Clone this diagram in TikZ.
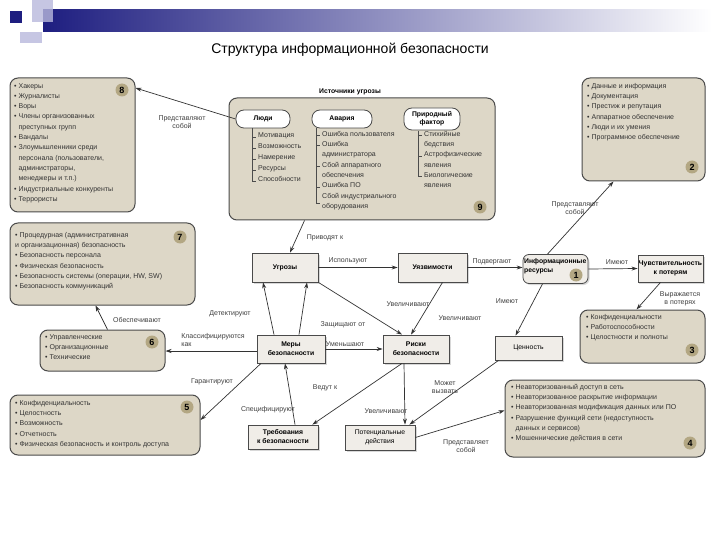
\documentclass[tikz,border=0pt]{standalone}
\usepackage{fontspec}
\setmainfont{Liberation Sans}
\usetikzlibrary{arrows.meta,shadows,calc}
\definecolor{lfill}{HTML}{DDD7C7}
\definecolor{lline}{HTML}{4A4A4A}
\definecolor{mfill}{HTML}{F0EDE8}
\definecolor{bfill}{HTML}{B3A783}
\definecolor{dblue}{HTML}{1E1E80}
\definecolor{lav}{HTML}{B8B8DC}
\tikzset{
  lbox/.style={draw=lline,line width=1pt,fill=lfill,rounded corners=8pt,inner sep=0pt},
  lst/.style={align=left,inner sep=0pt,font=\fontsize{7}{10.3}\selectfont,text=black!80},
  mbox/.style={draw=lline,line width=0.8pt,fill=mfill,drop shadow={shadow xshift=1.5pt,shadow yshift=-1.5pt,fill=gray!60},align=center,font=\fontsize{6.8}{9}\selectfont\bfseries,inner sep=1pt},
  oval/.style={draw=lline,line width=0.8pt,fill=white,rounded corners=8pt,align=center,font=\fontsize{6.8}{8}\selectfont\bfseries,inner sep=1pt},
  badge/.style={circle,fill=bfill,inner sep=0pt,minimum size=13pt,font=\fontsize{9}{9}\selectfont\bfseries},
  lbl/.style={font=\fontsize{7}{8.4}\selectfont,text=black!75,align=center,inner sep=1pt},
  arr/.style={-{Stealth[length=6pt,width=4pt]},line width=0.7pt,draw=black!80},
  tree/.style={line width=0.6pt,draw=black!70}
}
\begin{document}
\begin{tikzpicture}[x=1pt,y=-1pt]
\useasboundingbox (0,0) rectangle (720,540);
\fill[white] (0,0) rectangle (720,540);
% header decoration
\shade[left color=dblue,right color=white] (43,10) rectangle (712,32);
\fill[lav,opacity=0.8] (32,0) rectangle (53,22);
\fill[lav,opacity=0.8] (20,32) rectangle (42,43);
\fill[dblue] (10,11) rectangle (22,23);
\node[font=\fontsize{14}{16}\selectfont] (title) at (350,50) {Структура информационной безопасности};

% Box 8
\node[lbox,minimum width=125pt,minimum height=134pt] (b8) at (72.5,145) {};
\node[lst,anchor=north west] (t8) at (14,83) {• Хакеры\\• Журналисты\\• Воры\\• Члены организованных\\\phantom{• }преступных групп\\• Вандалы\\• Злоумышленники среди\\\phantom{• }персонала (пользователи,\\\phantom{• }администраторы,\\\phantom{• }менеджеры и т.п.)\\• Индустриальные конкуренты\\• Террористы};
\node[badge] (n8) at (122,90) {8};

% Box 9
\node[font=\fontsize{6.8}{8}\selectfont\bfseries] (t9h) at (350,92) {Источники угрозы};
\node[lbox,minimum width=266pt,minimum height=122pt] (b9) at (362,159) {};
\node[oval,minimum width=54pt,minimum height=18pt] (ppl) at (263,119) {Люди};
\node[oval,minimum width=60pt,minimum height=18pt] (acc) at (342,119) {Авария};
\node[oval,minimum width=56pt,minimum height=22pt] (nat) at (432,119) {Природный\\фактор};
\draw[tree] (252,128) -- (252,181);
\foreach \yy in {137,148,159,170,181} \draw[tree] (252,\yy) -- (256,\yy);
\node[lst,anchor=north west,font=\fontsize{7}{11}\selectfont] (t9a) at (258,132) {Мотивация\\Возможность\\Намерение\\Ресурсы\\Способности};
\draw[tree] (316,128) -- (316,203);
\foreach \yy in {135,145,166,187,203} \draw[tree] (316,\yy) -- (320,\yy);
\node[lst,anchor=north west] (t9b) at (322,131) {Ошибка пользователя\\Ошибка\\администратора\\Сбой аппаратного\\обеспечения\\Ошибка ПО\\Сбой индустриального\\оборудования};
\draw[tree] (418,131) -- (418,176);
\foreach \yy in {135,156,176} \draw[tree] (418,\yy) -- (422,\yy);
\node[lst,anchor=north west] (t9c) at (424,131) {Стихийные\\бедствия\\Астрофизические\\явления\\Биологические\\явления};
\node[badge] (n9) at (480,207) {9};

% Box 2
\node[lbox,minimum width=123pt,minimum height=103pt] (b2) at (643.5,129.5) {};
\node[lst,anchor=north west] (t2) at (587,83) {• Данные и информация\\• Документация\\• Престиж и репутация\\• Аппаратное обеспечение\\• Люди и их умения\\• Программное обеспечение};
\node[badge] (n2) at (692,167) {2};

% Box 7
\node[lbox,minimum width=185pt,minimum height=82pt] (b7) at (102.5,264) {};
\node[lst,anchor=north west] (t7) at (15,232) {• Процедурная (административная\\и организационная) безопасность\\• Безопасность персонала\\• Физическая безопасность\\• Безопасность системы (операции, HW, SW)\\• Безопасность коммуникаций};
\node[badge] (n7) at (180,237) {7};

% Box 6
\node[lbox,minimum width=125pt,minimum height=41pt] (b6) at (102.5,350.5) {};
\node[lst,anchor=north west] (t6) at (45,334) {• Управленческие\\• Организационные\\• Технические};
\node[badge] (n6) at (152,342) {6};

% Box 5
\node[lbox,minimum width=190pt,minimum height=60pt] (b5) at (105,425) {};
\node[lst,anchor=north west] (t5) at (15,400) {• Конфиденциальность\\• Целостность\\• Возможность\\• Отчетность\\• Физическая безопасность и контроль доступа};
\node[badge] (n5) at (187,407) {5};

% Box 3
\node[lbox,minimum width=125pt,minimum height=53pt] (b3) at (642.5,336.5) {};
\node[lst,anchor=north west] (t3) at (586,314) {• Конфиденциальности\\• Работоспособности\\• Целостности и полноты};
\node[badge] (n3) at (692,350) {3};

% Box 4
\node[lbox,minimum width=200pt,minimum height=77pt] (b4) at (605,418.5) {};
\node[lst,anchor=north west] (t4) at (511,384) {• Неавторизованный доступ в сеть\\• Неавторизованное раскрытие информации\\• Неавторизованная модификация данных или ПО\\• Разрушение функций сети (недоступность\\\phantom{• }данных и сервисов)\\• Мошеннические действия в сети};
\node[badge] (n4) at (690,443) {4};

% Main boxes
\node[mbox,minimum width=66pt,minimum height=29pt] (ugr) at (285,267.5) {Угрозы};
\node[mbox,minimum width=69pt,minimum height=29pt] (vul) at (432.5,267.5) {Уязвимости};
\node[mbox,rounded corners=6pt,minimum width=65pt,minimum height=29pt,align=left] (res) at (555.5,269) {};
\node[font=\fontsize{6.8}{9}\selectfont\bfseries,align=left,anchor=north west,inner sep=0pt] (rest) at (524,258) {Информационные\\ресурсы};
\node[badge] (n1) at (576,275) {1};
\node[mbox,minimum width=65pt,minimum height=27pt] (sens) at (670.5,268.5) {Чувствительность\\к потерям};
\node[mbox,minimum width=68pt,minimum height=28pt] (mer) at (291,349) {Меры\\безопасности};
\node[mbox,minimum width=66pt,minimum height=28pt] (risk) at (416,349) {Риски\\безопасности};
\node[mbox,font=\fontsize{6.8}{9}\selectfont,minimum width=67pt,minimum height=24pt] (val) at (528.5,348) {Ценность};
\node[mbox,minimum width=70pt,minimum height=24pt] (req) at (283,437) {Требования\\к безопасности};
\node[mbox,font=\fontsize{6.8}{9}\selectfont,minimum width=70pt,minimum height=25pt] (pot) at (380,437.5) {Потенциальные\\действия};

% Connectors
\draw[arr] (ppl.west) -- (b8.east |- 0,88);
\node[lbl] (l1) at (182,122) {Представляют\\собой};
\draw[arr] ($(b9.south west)+(76,0)$) -- ($(ugr.north)+(5,0)$);
\node[lbl] (l2) at (325,238) {Приводят к};
\draw[arr] (ugr.east) -- (vul.west);
\node[lbl] (l3) at (348,261) {Используют};
\draw[arr] (vul.east) -- (res.west |- vul.east);
\node[lbl] (l4) at (492,262) {Подвергают};
\draw[arr] ($(res.north)+(-8,0)$) -- ($(b2.south)+(-30,0)$);
\node[lbl] (l5) at (575,208) {Представляют\\собой};
\draw[arr] (res.east) -- (sens.west);
\node[lbl] (l6) at (617,262) {Имеют};
\draw[arr] ($(sens.south)+(-10,0)$) -- ($(b3.north)+(-6,0)$);
\node[lbl] (l7) at (680,299) {Выражается\\в потерях};
\draw[arr] ($(res.south)+(-13,0)$) -- ($(val.north)+(-13,0)$);
\node[lbl] (l8) at (507,301) {Имеют};
\draw[arr] (ugr.south east) -- ($(risk.north)+(-14,0)$);
\node[lbl] (l9) at (408,304) {Увеличивают};
\draw[arr] ($(vul.south)+(10,0)$) -- ($(risk.north)+(-5,0)$);
\node[lbl] (l10) at (460,318) {Увеличивают};
\draw[arr] ($(mer.north)+(-17,0)$) -- ($(ugr.south)+(-22,0)$);
\node[lbl] (l11) at (230,314) {Детектируют};
\draw[arr] ($(mer.north)+(8,0)$) -- ($(ugr.south)+(22,0)$);
\node[lbl] (l12) at (343,325) {Защищают от};
\draw[arr] (mer.west |- 0,351) -- (b6.east |- 0,351);
\node[lbl,align=left] (l13) at (213,340) {Классифицируются\\как};
\draw[arr] ($(b6.north)+(5,0)$) -- ($(b7.south)+(-7,0)$);
\node[lbl] (l14) at (137,320) {Обеспечивают};
\draw[arr] (mer.east) -- (risk.west);
\node[lbl] (l15) at (345,344) {Уменьшают};
\draw[arr] ($(mer.south)+(-30,0)$) -- ($(b5.east)+(0,-5)$);
\node[lbl] (l16) at (212,382) {Гарантируют};
\draw[arr] ($(req.north)+(12,0)$) -- ($(mer.south)+(-6,0)$);
\node[lbl] (l17) at (268,410) {Специфицируют};
\draw[arr] ($(risk.south)+(-14,0)$) -- ($(req.north east)+(-6,0)$);
\node[lbl] (l18) at (325,388) {Ведут к};
\draw[arr] ($(risk.south)+(-12,0)$) -- ($(pot.north)+(25,0)$);
\node[lbl] (l19) at (386,411) {Увеличивают};
\draw[arr] ($(val.south)+(-30,0)$) -- ($(pot.north east)+(-6,0)$);
\node[lbl] (l20) at (445,387) {Может\\вызвать};
\draw[arr] (pot.east) -- ($(b4.west)+(0,-8)$);
\node[lbl] (l21) at (466,446) {Представляет\\собой};
\end{tikzpicture}
\end{document}
